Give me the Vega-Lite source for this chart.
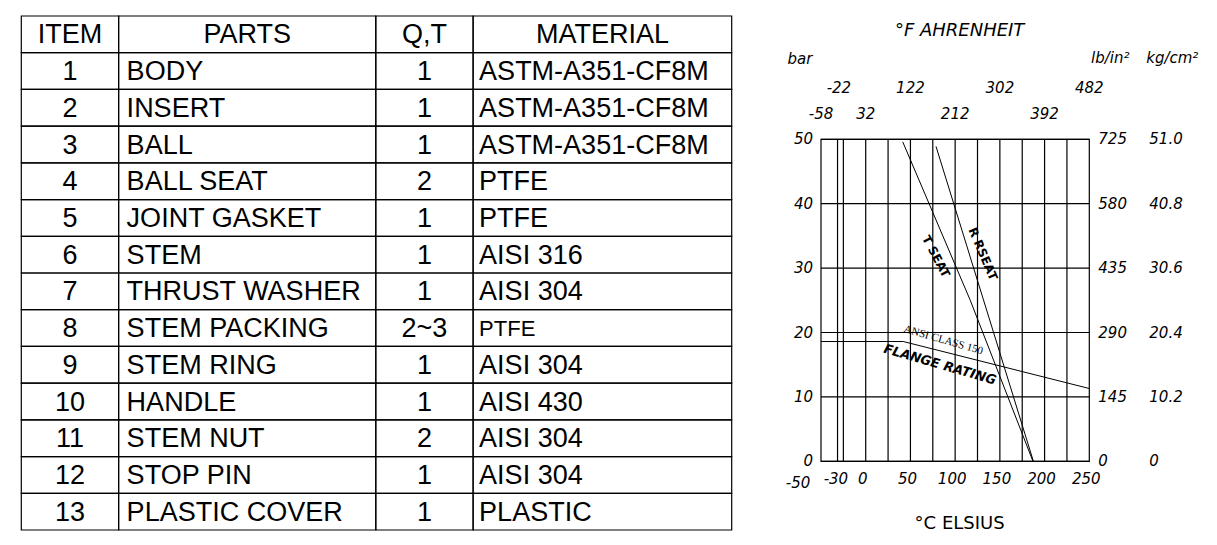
{
  "$schema": "https://vega.github.io/schema/vega-lite/v6.json",
  "width": 1217,
  "height": 545,
  "autosize": {"type": "none"},
  "padding": 0,
  "background": "white",
  "config": {"view": {"stroke": null}},
  "datasets": {
    "parts": [
      {"row": 0, "item": "ITEM", "part": "PARTS", "qty": "Q,T", "material": "MATERIAL"},
      {"row": 1, "item": "1", "part": "BODY", "qty": "1", "material": "ASTM-A351-CF8M"},
      {"row": 2, "item": "2", "part": "INSERT", "qty": "1", "material": "ASTM-A351-CF8M"},
      {"row": 3, "item": "3", "part": "BALL", "qty": "1", "material": "ASTM-A351-CF8M"},
      {"row": 4, "item": "4", "part": "BALL SEAT", "qty": "2", "material": "PTFE"},
      {"row": 5, "item": "5", "part": "JOINT GASKET", "qty": "1", "material": "PTFE"},
      {"row": 6, "item": "6", "part": "STEM", "qty": "1", "material": "AISI 316"},
      {"row": 7, "item": "7", "part": "THRUST WASHER", "qty": "1", "material": "AISI 304"},
      {"row": 8, "item": "8", "part": "STEM PACKING", "qty": "2~3", "material": "PTFE"},
      {"row": 9, "item": "9", "part": "STEM RING", "qty": "1", "material": "AISI 304"},
      {"row": 10, "item": "10", "part": "HANDLE", "qty": "1", "material": "AISI 430"},
      {"row": 11, "item": "11", "part": "STEM NUT", "qty": "2", "material": "AISI 304"},
      {"row": 12, "item": "12", "part": "STOP PIN", "qty": "1", "material": "AISI 304"},
      {"row": 13, "item": "13", "part": "PLASTIC COVER", "qty": "1", "material": "PLASTIC"}
    ],
    "pressure": [
      {"bar": 0, "psi": "0", "kg": "0"},
      {"bar": 10, "psi": "145", "kg": "10.2"},
      {"bar": 20, "psi": "290", "kg": "20.4"},
      {"bar": 30, "psi": "435", "kg": "30.6"},
      {"bar": 40, "psi": "580", "kg": "40.8"},
      {"bar": 50, "psi": "725", "kg": "51.0"}
    ],
    "temps": [
      {"c": -50, "f": -58},
      {"c": -30, "f": -22},
      {"c": 0, "f": 32},
      {"c": 50, "f": 122},
      {"c": 100, "f": 212},
      {"c": 150, "f": 302},
      {"c": 200, "f": 392},
      {"c": 250, "f": 482}
    ],
    "grid": [
      {"c": -31.5}, {"c": -25}, {"c": 0}, {"c": 25}, {"c": 50}, {"c": 75},
      {"c": 100}, {"c": 125}, {"c": 150}, {"c": 175}, {"c": 200}, {"c": 225}
    ],
    "curves": [
      {"curve": "T SEAT", "c": 41.4, "bar": 49.6},
      {"curve": "T SEAT", "c": 116.6, "bar": 25.1},
      {"curve": "T SEAT", "c": 187, "bar": 0},
      {"curve": "R SEAT", "c": 78.6, "bar": 48.9},
      {"curve": "R SEAT", "c": 187.5, "bar": 0},
      {"curve": "FLANGE", "c": -50, "bar": 18.6},
      {"curve": "FLANGE", "c": 42, "bar": 18.6},
      {"curve": "FLANGE", "c": 250, "bar": 11.3}
    ],
    "one": [{}]
  },
  "layer": [
    {
      "data": {"name": "parts"},
      "encoding": {
        "y": {"field": "row", "type": "ordinal", "axis": null,
          "scale": {"range": [16, 530], "paddingInner": 0, "paddingOuter": 0}}
      },
      "layer": [
        {"mark": {"type": "rect", "filled": false, "stroke": "black", "strokeWidth": 1.2},
         "encoding": {"x": {"datum": 0, "axis": null, "scale": {"domain": [0, 100], "range": [21.3, 731.7]}}, "x2": {"datum": 13.7}}},
        {"mark": {"type": "rect", "filled": false, "stroke": "black", "strokeWidth": 1.2},
         "encoding": {"x": {"datum": 13.7}, "x2": {"datum": 49.9}}},
        {"mark": {"type": "rect", "filled": false, "stroke": "black", "strokeWidth": 1.2},
         "encoding": {"x": {"datum": 49.9}, "x2": {"datum": 63.6}}},
        {"mark": {"type": "rect", "filled": false, "stroke": "black", "strokeWidth": 1.2},
         "encoding": {"x": {"datum": 63.6}, "x2": {"datum": 100}}},
        {"mark": {"type": "text", "font": "Liberation Sans", "fontSize": 27, "dy": 1, "color": "black"},
         "encoding": {"x": {"datum": 6.85}, "text": {"field": "item"}}},
        {"mark": {"type": "text", "font": "Liberation Sans", "fontSize": 27, "dy": 1, "color": "black"},
         "encoding": {"x": {"datum": 56.75}, "text": {"field": "qty"}}},
        {"transform": [{"filter": "datum.row == 0"}],
         "mark": {"type": "text", "font": "Liberation Sans", "fontSize": 27, "dy": 1, "color": "black"},
         "encoding": {"x": {"datum": 31.8}, "text": {"field": "part"}}},
        {"transform": [{"filter": "datum.row == 0"}],
         "mark": {"type": "text", "font": "Liberation Sans", "fontSize": 27, "dy": 1, "color": "black"},
         "encoding": {"x": {"datum": 81.8}, "text": {"field": "material"}}},
        {"transform": [{"filter": "datum.row > 0"}],
         "mark": {"type": "text", "font": "Liberation Sans", "fontSize": 27, "align": "left", "dx": 8, "dy": 1, "color": "black"},
         "encoding": {"x": {"datum": 13.7}, "text": {"field": "part"}}},
        {"transform": [{"filter": "datum.row > 0"}],
         "mark": {"type": "text", "font": "Liberation Sans", "align": "left", "dx": 6, "dy": 1, "color": "black"},
         "encoding": {"x": {"datum": 63.6}, "text": {"field": "material"},
           "size": {"condition": {"test": "datum.row == 8", "value": 22}, "value": 27}}}
      ]
    },
    {
      "data": {"name": "one"},
      "layer": [
        {"mark": {"type": "rect", "filled": false, "stroke": "black", "strokeWidth": 1.2},
         "encoding": {
           "x": {"datum": -50, "axis": null, "scale": {"domain": [-50, 250], "range": [821, 1089.3], "nice": false, "zero": false, "padding": 0}},
           "x2": {"datum": 250},
           "y": {"datum": 0, "axis": null, "scale": {"domain": [0, 50], "range": [461.3, 139.3], "nice": false, "zero": false, "padding": 0}},
           "y2": {"datum": 50}}},
        {"data": {"name": "grid"},
         "mark": {"type": "rule", "color": "black", "strokeWidth": 1.2},
         "encoding": {"x": {"field": "c", "type": "quantitative"}, "y": {"datum": 0}, "y2": {"datum": 50}}},
        {"data": {"name": "pressure"},
         "mark": {"type": "rule", "color": "black", "strokeWidth": 1.2},
         "encoding": {"y": {"field": "bar", "type": "quantitative"}, "x": {"datum": -50}, "x2": {"datum": 250}}},
        {"data": {"name": "curves"},
         "mark": {"type": "line", "color": "black", "strokeWidth": 1},
         "encoding": {
           "x": {"field": "c", "type": "quantitative"},
           "y": {"field": "bar", "type": "quantitative"},
           "detail": {"field": "curve"}}},
        {"data": {"name": "pressure"},
         "mark": {"type": "text", "font": "DejaVu Sans", "fontStyle": "italic", "fontSize": 15, "align": "right", "dx": -8, "color": "black"},
         "encoding": {"x": {"datum": -50}, "y": {"field": "bar", "type": "quantitative"}, "text": {"field": "bar"}}},
        {"data": {"name": "pressure"},
         "mark": {"type": "text", "font": "DejaVu Sans", "fontStyle": "italic", "fontSize": 15, "align": "left", "dx": 9, "color": "black"},
         "encoding": {"x": {"datum": 250}, "y": {"field": "bar", "type": "quantitative"}, "text": {"field": "psi"}}},
        {"data": {"name": "pressure"},
         "mark": {"type": "text", "font": "DejaVu Sans", "fontStyle": "italic", "fontSize": 15, "align": "left", "dx": 60, "color": "black"},
         "encoding": {"x": {"datum": 250}, "y": {"field": "bar", "type": "quantitative"}, "text": {"field": "kg"}}},
        {"data": {"name": "temps"},
         "transform": [{"filter": "datum.c > -50"}],
         "mark": {"type": "text", "font": "DejaVu Sans", "fontStyle": "italic", "fontSize": 15, "dy": 18, "dx": -3, "color": "black"},
         "encoding": {"x": {"field": "c", "type": "quantitative"}, "y": {"datum": 0}, "text": {"field": "c"}}},
        {"data": {"name": "temps"},
         "transform": [{"filter": "datum.c == -50"}],
         "mark": {"type": "text", "font": "DejaVu Sans", "fontStyle": "italic", "fontSize": 15, "dy": 22, "dx": -23, "color": "black"},
         "encoding": {"x": {"field": "c", "type": "quantitative"}, "y": {"datum": 0}, "text": {"field": "c"}}},
        {"data": {"name": "temps"},
         "transform": [{"filter": "datum.c == -30 || datum.c == 50 || datum.c == 150 || datum.c == 250"}],
         "mark": {"type": "text", "font": "DejaVu Sans", "fontStyle": "italic", "fontSize": 15, "dy": -51, "color": "black"},
         "encoding": {"x": {"field": "c", "type": "quantitative"}, "y": {"datum": 50}, "text": {"field": "f"}}},
        {"data": {"name": "temps"},
         "transform": [{"filter": "datum.c == -50 || datum.c == 0 || datum.c == 100 || datum.c == 200"}],
         "mark": {"type": "text", "font": "DejaVu Sans", "fontStyle": "italic", "fontSize": 15, "dy": -25, "color": "black"},
         "encoding": {"x": {"field": "c", "type": "quantitative"}, "y": {"datum": 50}, "text": {"field": "f"}}},
        {"mark": {"type": "text", "text": "°F AHRENHEIT", "font": "DejaVu Sans", "fontStyle": "italic", "fontSize": 18, "dy": -108, "color": "black"},
         "encoding": {"x": {"datum": 105}, "y": {"datum": 50}}},
        {"mark": {"type": "text", "text": "bar", "font": "DejaVu Sans", "fontStyle": "italic", "fontSize": 15, "dy": -80, "dx": -21, "color": "black"},
         "encoding": {"x": {"datum": -50}, "y": {"datum": 50}}},
        {"mark": {"type": "text", "text": "lb/in²", "font": "DejaVu Sans", "fontStyle": "italic", "fontSize": 15, "dy": -81, "dx": 21, "color": "black"},
         "encoding": {"x": {"datum": 250}, "y": {"datum": 50}}},
        {"mark": {"type": "text", "text": "kg/cm²", "font": "DejaVu Sans", "fontStyle": "italic", "fontSize": 15, "dy": -81, "dx": 83, "color": "black"},
         "encoding": {"x": {"datum": 250}, "y": {"datum": 50}}},
        {"mark": {"type": "text", "text": "°C ELSIUS", "font": "DejaVu Sans", "fontSize": 18, "dy": 63, "color": "black"},
         "encoding": {"x": {"datum": 105}, "y": {"datum": 0}}},
        {"mark": {"type": "text", "text": "T SEAT", "font": "DejaVu Sans", "fontWeight": "bold", "fontSize": 12, "angle": 62, "color": "black"},
         "encoding": {"x": {"datum": 78.6}, "y": {"datum": 31.8}}},
        {"mark": {"type": "text", "text": "R RSEAT", "font": "DejaVu Sans", "fontWeight": "bold", "fontSize": 12, "angle": 67, "color": "black"},
         "encoding": {"x": {"datum": 131}, "y": {"datum": 32.2}}},
        {"mark": {"type": "text", "text": "ANSI CLASS 150", "font": "Liberation Serif", "fontSize": 11, "angle": 16, "color": "black"},
         "encoding": {"x": {"datum": 86.8}, "y": {"datum": 18.8}}},
        {"mark": {"type": "text", "text": "FLANGE RATING", "font": "DejaVu Sans", "fontWeight": "bold", "fontStyle": "italic", "fontSize": 13, "angle": 16, "color": "black"},
         "encoding": {"x": {"datum": 83}, "y": {"datum": 15}}}
      ]
    }
  ],
  "resolve": {"scale": {"x": "independent", "y": "independent"}}
}
